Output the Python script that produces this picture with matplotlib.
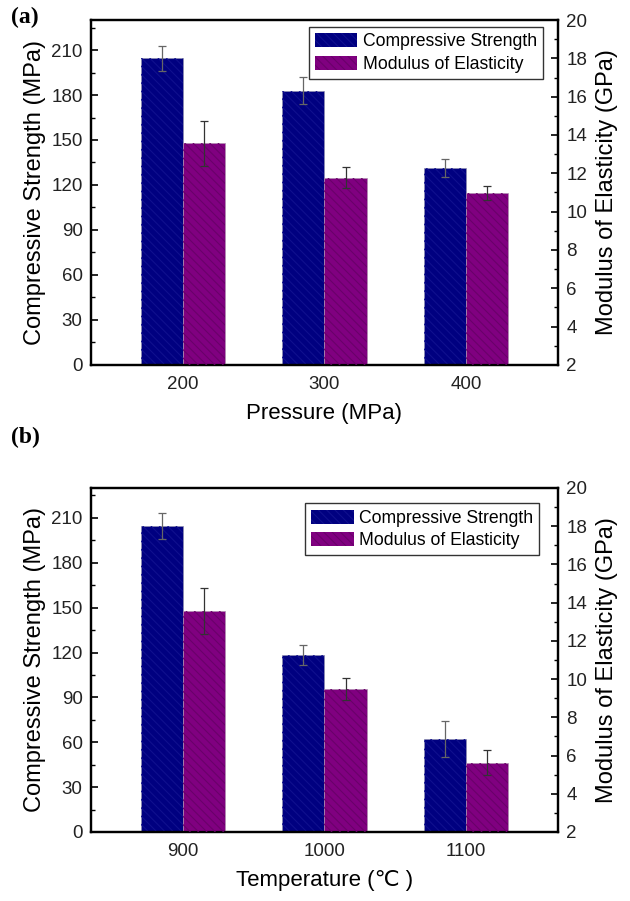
import numpy as np
import matplotlib
matplotlib.use("Agg")
import matplotlib.pyplot as plt
from matplotlib.patches import Patch
from matplotlib.ticker import MultipleLocator

plt.rcParams['font.family'] = ['Liberation Sans', 'DejaVu Sans']
plt.rcParams['hatch.linewidth'] = 0.8

# ---- data ----
categories_a = ['200', '300', '400']
cs_a = [204.5, 183.0, 131.5]
cs_a_err = [8.5, 9.0, 6.0]
mod_a = [13.56, 11.78, 10.96]
mod_a_err = [1.17, 0.55, 0.37]

categories_b = ['900', '1000', '1100']
cs_b = [204.5, 118.3, 62.2]
cs_b_err = [8.5, 6.7, 12.2]
mod_b = [13.56, 9.48, 5.62]
mod_b_err = [1.2, 0.6, 0.65]

xlabels = ['Pressure (MPa)', 'Temperature (\u2103 )']
panel_tags = ['(a)', '(b)']
left_label = 'Compressive Strength (MPa)'
right_label = 'Modulus of Elasticity (GPa)'
series_names = ['Compressive Strength', 'Modulus of Elasticity']

CS_COLOR = '#000080'
CS_HATCH = '#10108e'
MOD_COLOR = '#800080'
MOD_HATCH = '#6a006a'
ERR_COLOR = '#666666'

fig = plt.figure(figsize=(6.30, 9.01), dpi=100)

W = 0.7413
axes_pos = [[0.1444, 0.5949, W, 0.3829], [0.1444, 0.0766, W, 0.3818]]
datasets = [(categories_a, cs_a, cs_a_err, mod_a, mod_a_err),
            (categories_b, cs_b, cs_b_err, mod_b, mod_b_err)]
legend_anchor = [(0.968, 0.98), (0.960, 0.955)]
tag_y = [0.981, 0.515]

bw = 0.30
for i, (cats, cs, cse, md, mde) in enumerate(datasets):
    ax = fig.add_axes(axes_pos[i])
    ax2 = ax.twinx()
    x = np.arange(1, len(cats) + 1)
    # compressive strength bars (left axis)
    ax.bar(x - bw / 2, cs, width=bw, color=CS_COLOR, edgecolor='#9090b0', linewidth=0.5, zorder=2)
    ax.bar(x - bw / 2, cs, width=bw, facecolor='none', edgecolor=CS_HATCH, linewidth=0, hatch='\\\\\\\\', zorder=3)
    ax.errorbar(x - bw / 2, cs, yerr=cse, fmt='none', ecolor=ERR_COLOR, elinewidth=0.9, capsize=3, capthick=0.9, zorder=4)
    # modulus bars (right axis)
    mdv = np.array(md)
    ax2.bar(x + bw / 2, mdv - 2, bottom=2, width=bw, color=MOD_COLOR, edgecolor='#b090b0', linewidth=0.5, zorder=2)
    ax2.bar(x + bw / 2, mdv - 2, bottom=2, width=bw, facecolor='none', edgecolor=MOD_HATCH, linewidth=0, hatch='\\\\\\\\', zorder=3)
    ax2.errorbar(x + bw / 2, mdv, yerr=mde, fmt='none', ecolor='#333333', elinewidth=0.9, capsize=3, capthick=0.9, zorder=4)

    ax.set_xlim(0.35, 3.65)
    ax.set_ylim(0, 230)
    ax2.set_ylim(2, 20)
    ax.set_xticks(x)
    ax.set_xticklabels(cats)
    ax.yaxis.set_major_locator(MultipleLocator(30))
    ax.yaxis.set_minor_locator(MultipleLocator(15))
    ax2.yaxis.set_major_locator(MultipleLocator(2))
    ax2.yaxis.set_minor_locator(MultipleLocator(1))

    ax.tick_params(axis='x', length=0, pad=8, labelsize=13.5)
    ax.tick_params(axis='y', which='major', direction='in', length=5, width=1.2, pad=6, labelsize=13.5)
    ax.tick_params(axis='y', which='minor', direction='in', length=3, width=1.0)
    ax2.tick_params(axis='y', which='major', direction='in', length=5, width=1.2, pad=6, labelsize=13.5)
    ax2.tick_params(axis='y', which='minor', direction='in', length=3, width=1.0)
    for a in (ax, ax2):
        for s in a.spines.values():
            s.set_linewidth(1.6)
        a.tick_params(colors='black', labelcolor='#222222')

    ax.set_xlabel(xlabels[i], fontsize=16, labelpad=7)
    ax.set_ylabel(left_label, fontsize=17, labelpad=4)
    ax2.set_ylabel(right_label, fontsize=17, labelpad=6)

    handles = [Patch(facecolor=CS_COLOR, edgecolor=CS_HATCH, hatch='\\\\\\\\', linewidth=0),
               Patch(facecolor=MOD_COLOR, edgecolor=MOD_HATCH, hatch='\\\\\\\\', linewidth=0)]
    leg = ax2.legend(handles, series_names, loc='upper right', bbox_to_anchor=legend_anchor[i],
                     borderaxespad=0, fontsize=12.7, frameon=True, fancybox=False,
                     edgecolor='black', handlelength=2.4, handleheight=0.85,
                     handletextpad=0.3, labelspacing=0.3, borderpad=0.35)
    leg.get_frame().set_linewidth(1.0)
    leg.set_zorder(10)

    fig.text(0.018, tag_y[i], panel_tags[i], fontsize=17, fontweight='bold',
             family='Liberation Serif', va='center', ha='left')

fig.savefig('out.png', dpi=100)
